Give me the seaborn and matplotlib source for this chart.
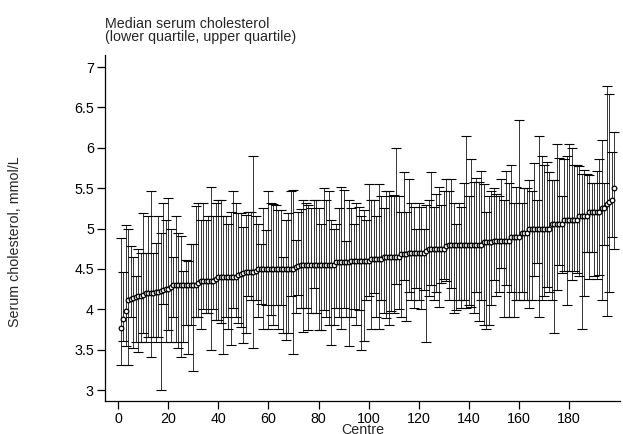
import numpy as np
import pandas as pd
import matplotlib
matplotlib.use("Agg")
import matplotlib.pyplot as plt
import seaborn as sns

centre = list(range(1, 199))

median = [3.77, 3.88, 3.98, 4.12, 4.13, 4.14, 4.15, 4.16, 4.17, 4.18,
          4.20, 4.20, 4.20, 4.20, 4.21, 4.22, 4.23, 4.24, 4.25, 4.25,
          4.27, 4.30, 4.30, 4.30, 4.30, 4.30, 4.30, 4.30, 4.30, 4.30,
          4.30, 4.33, 4.35, 4.35, 4.35, 4.35, 4.35, 4.35, 4.38, 4.40,
          4.40, 4.40, 4.40, 4.40, 4.40, 4.40, 4.40, 4.42, 4.44, 4.45,
          4.46, 4.46, 4.46, 4.46, 4.48, 4.50, 4.50, 4.50, 4.50, 4.50,
          4.50, 4.50, 4.50, 4.50, 4.50, 4.50, 4.50, 4.50, 4.50, 4.50,
          4.52, 4.53, 4.55, 4.55, 4.55, 4.55, 4.55, 4.55, 4.55, 4.55,
          4.55, 4.55, 4.55, 4.55, 4.55, 4.55, 4.58, 4.58, 4.58, 4.58,
          4.58, 4.58, 4.60, 4.60, 4.60, 4.60, 4.60, 4.60, 4.60, 4.60,
          4.62, 4.62, 4.62, 4.62, 4.62, 4.65, 4.65, 4.65, 4.65, 4.65,
          4.65, 4.65, 4.68, 4.68, 4.68, 4.70, 4.70, 4.70, 4.70, 4.70,
          4.70, 4.70, 4.72, 4.75, 4.75, 4.75, 4.75, 4.75, 4.75, 4.75,
          4.78, 4.80, 4.80, 4.80, 4.80, 4.80, 4.80, 4.80, 4.80, 4.80,
          4.80, 4.80, 4.80, 4.80, 4.80, 4.83, 4.83, 4.83, 4.83, 4.85,
          4.85, 4.85, 4.85, 4.85, 4.85, 4.85, 4.90, 4.90, 4.90, 4.90,
          4.95, 4.95, 4.95, 5.00, 5.00, 5.00, 5.00, 5.00, 5.00, 5.00,
          5.00, 5.00, 5.05, 5.05, 5.05, 5.05, 5.05, 5.10, 5.10, 5.10,
          5.10, 5.10, 5.10, 5.15, 5.15, 5.15, 5.15, 5.20, 5.20, 5.20,
          5.20, 5.20, 5.25, 5.25, 5.30, 5.33, 5.35, 5.50]

upper = [4.88, 4.46, 5.04, 5.00, 4.78, 4.65, 4.41, 4.75, 4.70, 5.19,
         4.70, 5.16, 5.46, 4.70, 4.82, 5.16, 4.94, 5.31, 5.11, 5.38,
         5.00, 4.65, 5.16, 4.94, 4.91, 4.47, 4.61, 4.60, 4.81, 4.81,
         5.28, 5.31, 5.11, 5.31, 5.11, 5.16, 5.51, 5.16, 5.31, 5.35,
         5.35, 5.16, 5.15, 5.06, 5.20, 5.46, 5.31, 5.19, 5.19, 5.02,
         5.17, 5.20, 5.20, 5.90, 5.15, 5.06, 4.81, 5.25, 4.98, 5.46,
         5.31, 5.30, 5.29, 5.23, 5.23, 4.65, 5.11, 5.19, 5.47, 5.48,
         4.86, 5.20, 5.24, 5.35, 5.31, 5.29, 5.25, 5.35, 5.35, 5.25,
         5.05, 5.50, 5.35, 5.46, 5.11, 5.00, 5.05, 5.25, 5.52, 5.48,
         4.84, 5.35, 5.25, 5.06, 5.31, 5.27, 5.16, 5.23, 5.11, 5.55,
         5.35, 5.35, 5.15, 5.55, 5.40, 5.25, 5.46, 5.46, 5.40, 5.42,
         6.00, 5.40, 5.20, 5.70, 5.20, 5.61, 5.31, 5.27, 5.00, 5.31,
         5.27, 5.00, 5.29, 5.35, 5.70, 5.27, 5.43, 5.51, 5.29, 5.46,
         5.61, 5.46, 5.61, 5.31, 5.06, 5.31, 5.27, 5.56, 6.15, 5.40,
         5.86, 5.58, 5.63, 5.58, 5.71, 5.55, 5.20, 5.40, 5.46, 5.50,
         5.43, 5.40, 5.61, 5.35, 5.71, 5.56, 5.79, 5.31, 5.51, 6.35,
         5.31, 5.50, 5.50, 5.60, 5.46, 5.81, 5.35, 6.15, 5.90, 5.79,
         5.82, 5.70, 5.60, 5.60, 6.05, 5.87, 5.40, 5.86, 5.90, 6.05,
         6.00, 5.79, 5.79, 5.77, 5.68, 5.72, 5.68, 5.66, 5.56, 5.56,
         5.71, 5.86, 6.10, 5.56, 6.76, 6.66, 5.95, 6.20]

lower = [3.31, 3.61, 3.54, 3.31, 3.91, 3.52, 3.60, 3.47, 3.60, 3.70,
         3.60, 3.66, 3.41, 3.66, 3.60, 3.66, 3.00, 4.07, 3.60, 3.74,
         3.60, 3.91, 3.60, 3.52, 3.41, 3.60, 3.80, 3.45, 3.80, 3.23,
         3.91, 3.91, 3.76, 4.00, 3.96, 3.96, 3.49, 4.00, 3.87, 3.87,
         3.83, 3.45, 3.91, 3.76, 3.56, 4.01, 3.91, 3.83, 3.78, 3.58,
         3.70, 4.16, 4.12, 3.52, 4.12, 3.91, 4.07, 3.76, 4.05, 3.76,
         3.93, 3.80, 4.05, 3.76, 4.05, 3.70, 3.62, 3.70, 4.16, 3.45,
         3.95, 4.18, 4.01, 3.72, 4.01, 3.74, 3.95, 4.26, 3.95, 3.74,
         3.74, 3.99, 3.90, 3.80, 3.56, 3.80, 4.01, 3.91, 3.76, 4.02,
         3.91, 3.54, 3.91, 4.00, 3.80, 3.99, 3.50, 3.61, 4.12, 4.16,
         3.75, 4.20, 3.91, 3.75, 4.12, 3.95, 3.89, 3.80, 3.98, 3.95,
         4.31, 4.00, 3.91, 4.36, 3.86, 4.22, 4.11, 4.01, 4.26, 4.12,
         4.00, 4.24, 3.60, 4.16, 4.30, 4.12, 4.21, 4.03, 4.32, 4.38,
         4.35, 4.12, 4.26, 3.96, 3.99, 4.12, 4.01, 4.11, 4.01, 4.05,
         4.03, 3.96, 4.22, 3.85, 4.12, 3.80, 3.76, 3.80, 4.05, 4.36,
         4.16, 4.22, 4.51, 3.91, 4.30, 3.91, 4.22, 3.91, 4.12, 4.12,
         4.22, 4.12, 4.12, 4.01, 4.12, 4.41, 4.57, 3.91, 4.12, 4.16,
         4.28, 4.22, 4.12, 3.70, 4.24, 4.55, 4.45, 4.47, 4.05, 4.47,
         4.36, 4.47, 4.45, 4.41, 3.76, 4.16, 4.71, 4.38, 4.71, 4.41,
         4.38, 4.43, 4.12, 4.80, 3.92, 4.22, 4.89, 4.75]

x_ticks = [0, 20, 40, 60, 80, 100, 120, 140, 160, 180]
y_ticks = [3, 3.5, 4, 4.5, 5, 5.5, 6, 6.5, 7]
y_tick_labels = ["3", "3.5", "4", "4.5", "5", "5.5", "6", "6.5", "7"]

df = pd.DataFrame({"centre": centre, "median": median, "lq": lower, "uq": upper})

sns.set_style("white")
plt.rcParams["font.family"] = ["Liberation Sans", "DejaVu Sans"]

FS = 10.3

fig = plt.figure(figsize=(6.23, 4.34), dpi=100)
ax = fig.add_axes([105 / 623, 33 / 434, 515 / 623, 346 / 434])

yerr = np.vstack([df["median"] - df["lq"], df["uq"] - df["median"]])
ax.errorbar(df["centre"], df["median"], yerr=yerr, fmt="none",
            ecolor="black", elinewidth=0.55, capsize=3.6, capthick=0.8, zorder=2)
sns.scatterplot(data=df, x="centre", y="median", ax=ax, marker="o",
                s=11, facecolor="white", edgecolor="black", linewidth=0.9,
                zorder=3, legend=False)

ax.set_xlim(-5.2, 200.3)
ax.set_ylim(2.864, 7.149)
ax.set_xticks(x_ticks)
ax.set_xticklabels([str(t) for t in x_ticks])
ax.set_yticks(y_ticks)
ax.set_yticklabels(y_tick_labels)
ax.tick_params(axis="both", direction="out", length=6, width=0.9,
               labelsize=FS, colors="black", pad=2, left=True, bottom=True)
for side in ["top", "right"]:
    ax.spines[side].set_visible(False)
for side in ["left", "bottom"]:
    ax.spines[side].set_color("black")
    ax.spines[side].set_linewidth(0.9)

ax.set_xlabel("Centre", fontsize=FS, labelpad=-2.5)
ax.set_ylabel("")
fig.text(15 / 623, 1 - 242 / 434, "Serum cholesterol, mmol/L", rotation=90,
         fontsize=FS, ha="center", va="center")
fig.text(105 / 623, 1 - 44 / 434,
         "Median serum cholesterol\n(lower quartile, upper quartile)",
         fontsize=FS, ha="left", va="bottom", linespacing=0.95)

fig.savefig("out.png", dpi=100, facecolor="white")
